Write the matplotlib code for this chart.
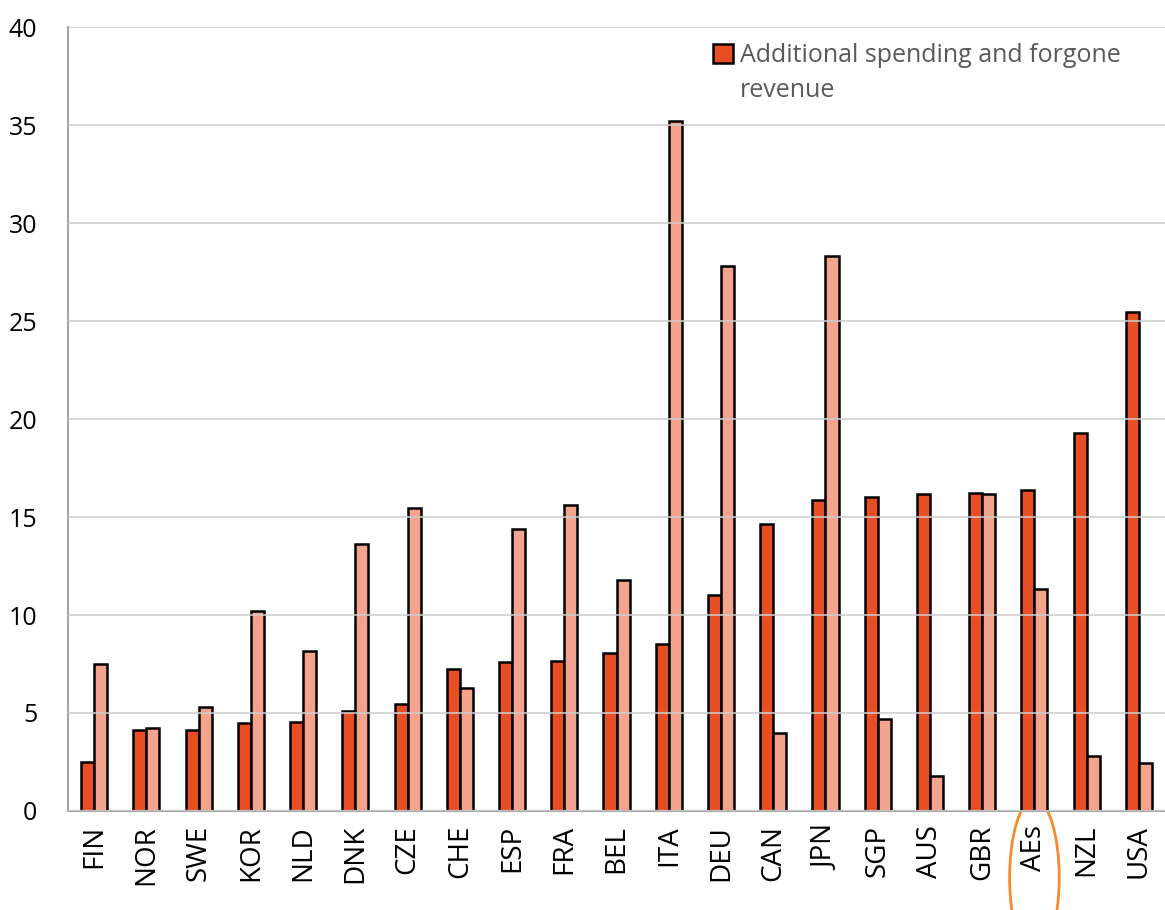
import matplotlib
matplotlib.use("Agg")
import matplotlib.pyplot as plt
import numpy as np
from matplotlib.patches import Ellipse

# data (% of GDP)
countries = ['FIN', 'NOR', 'SWE', 'KOR', 'NLD', 'DNK', 'CZE', 'CHE', 'ESP', 'FRA', 'BEL',
             'ITA', 'DEU', 'CAN', 'JPN', 'SGP', 'AUS', 'GBR', 'AEs', 'NZL', 'USA']
spending = [2.5, 4.15, 4.15, 4.5, 4.55, 5.1, 5.45, 7.25, 7.6, 7.65, 8.05,
            8.5, 11.0, 14.65, 15.85, 16.0, 16.15, 16.25, 16.4, 19.3, 25.45]
liquidity = [7.5, 4.25, 5.3, 10.2, 8.15, 13.6, 15.45, 6.25, 14.4, 15.6, 11.8,
             35.2, 27.8, 4.0, 28.3, 4.7, 1.8, 16.15, 11.35, 2.8, 2.45]
yticks = [0, 5, 10, 15, 20, 25, 30, 35, 40]

plt.rcParams['font.family'] = ['Open Sans', 'DejaVu Sans']

fig = plt.figure(figsize=(11.65, 9.1), dpi=100)
ax = fig.add_axes([0.0584, 0.1088, 0.9416, 0.8615])

x = np.arange(len(countries))
w = 0.25
ax.bar(x - w/2, spending, w, color='#E84E24', edgecolor='black', linewidth=1.8,
       label='Additional spending and forgone', zorder=2)
ax.bar(x + w/2, liquidity, w, color='#F4A38C', edgecolor='black', linewidth=1.8, zorder=2)

ax.set_xlim(-0.5, len(countries) - 0.5)
ax.set_ylim(0, 40)
ax.set_yticks(yticks)
ax.yaxis.grid(True, color='#cccccc', linewidth=1.5, alpha=0.8, zorder=3)
ax.set_axisbelow(False)
ax.set_xticks(x)
ax.set_xticklabels(countries, rotation=90, fontsize=20)
ax.tick_params(axis='y', labelsize=18, length=0, pad=22)
ax.tick_params(axis='x', length=0, pad=10)

for s in ['top', 'right']:
    ax.spines[s].set_visible(False)
for s in ['left', 'bottom']:
    ax.spines[s].set_color('#a6a6a6')
    ax.spines[s].set_linewidth(1.5)

leg = ax.legend(loc='upper left', bbox_to_anchor=(0.567, 1.008), frameon=False, fontsize=18,
                handlelength=0.8, handleheight=0.8, handletextpad=0.3)
lt = leg.get_texts()[0]
lt.set_color('#595959')
# second line of the legend label, under the first (drawn after the legend)
ax.annotate('revenue', xy=(0, 0), xycoords=lt, xytext=(0, -10), textcoords='offset pixels',
            va='top', ha='left', fontsize=18, color='#595959', zorder=6,
            annotation_clip=False)

# circle round the AEs label
idx = countries.index('AEs')
ell = Ellipse((idx, -0.085), 0.95, 0.2, transform=ax.get_xaxis_transform(),
              fill=False, edgecolor='#F7892F', linewidth=2, clip_on=False)
ax.add_patch(ell)

fig.savefig('out.png', dpi=100)
